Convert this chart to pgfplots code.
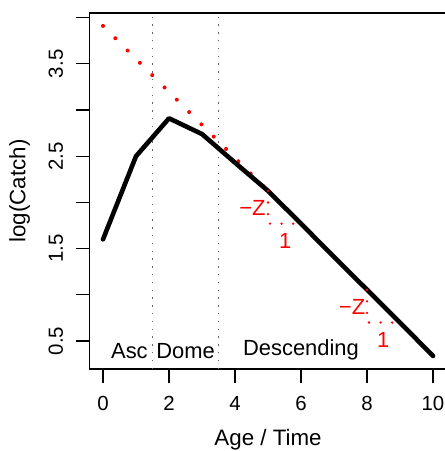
\documentclass[border=0pt]{standalone}
\usepackage{fontspec}
\setmainfont{Liberation Sans}
\usepackage{pgfplots}
\pgfplotsset{compat=1.18}
\definecolor{refgray}{HTML}{666666}
\begin{document}
\begin{tikzpicture}
\begin{axis}[
    scale only axis, width=356.4bp, height=356bp,
    xmin=-0.4, xmax=10.4, ymin=0.197, ymax=4.05,
    axis line style={black, line width=1.1bp},
    xtick={0,2,4,6,8,10}, xticklabels={0,2,4,6,8,10},
    ytick={0.5,1,1.5,2,2.5,3,3.5,4}, yticklabels={0.5,,1.5,,2.5,,3.5,},
    xtick pos=bottom, ytick pos=left,
    tick align=outside, major tick length=14bp,
    tick style={black, line width=1.1bp},
    tick label style={font=\fontsize{20.5}{22}\selectfont, inner sep=0pt},
    xticklabel style={yshift=-13bp, anchor=north},
    yticklabel style={xshift=-12.5bp, rotate=90, anchor=south},
    xlabel={Age / Time}, ylabel={log(Catch)},
    label style={font=\fontsize{22.4}{24}\selectfont, inner sep=0pt},
    xlabel style={at={(axis description cs:0.5,-0.2135)}, anchor=base},
    ylabel style={at={(axis description cs:-0.181,0.5)}, anchor=base},
]
% section boundaries
\addplot[refgray, line width=1.4bp, dash pattern=on 1.4bp off 6.4bp] coordinates {(1.5,0.197)(1.5,4.05)};
\addplot[refgray, line width=1.4bp, dash pattern=on 1.4bp off 6.4bp] coordinates {(3.5,0.197)(3.5,4.05)};
% slope line -Z
\addplot[red, line width=4bp, line cap=round, dash pattern=on 0pt off 17.4bp] coordinates {(0,3.91)(5,2.125)};
% log catch
\addplot[black, line width=4.6bp, line join=round, line cap=round] coordinates {
    (0,1.60)(1,2.50)(2,2.91)(3,2.74)(4,2.43)(5,2.125)(6,1.77)(7,1.41)(8,1.055)(9,0.70)(10,0.338)
};
% slope triangles
\addplot[red, line width=2.6bp, line cap=round, dash pattern=on 0pt off 11.6bp] coordinates {(5,2.125)(5,1.77)(6,1.77)};
\addplot[red, line width=2.6bp, line cap=round, dash pattern=on 0pt off 11.6bp] coordinates {(8,1.055)(8,0.70)(9,0.70)};
\node[red, font=\fontsize{22}{24}\selectfont, inner sep=0pt, anchor=east] at (axis cs:4.93,1.94) {−Z};
\node[red, font=\fontsize{22}{24}\selectfont, inner sep=0pt] at (axis cs:5.52,1.58) {1};
\node[red, font=\fontsize{22}{24}\selectfont, inner sep=0pt, anchor=east] at (axis cs:7.95,0.868) {−Z};
\node[red, font=\fontsize{22}{24}\selectfont, inner sep=0pt] at (axis cs:8.49,0.516) {1};
% section names
\node[font=\fontsize{22}{24}\selectfont, inner sep=0pt, anchor=base] at (axis cs:0.8,0.316) {Asc};
\node[font=\fontsize{22}{24}\selectfont, inner sep=0pt, anchor=base] at (axis cs:2.5,0.316) {Dome};
\node[font=\fontsize{22}{24}\selectfont, inner sep=0pt, anchor=base] at (axis cs:6.0,0.338) {Descending};
\coordinate (bl) at (rel axis cs:0,0);
\coordinate (tr) at (rel axis cs:1,1);
\end{axis}
\pgfresetboundingbox
\path[use as bounding box] ([shift={(-89.8bp,-82bp)}]bl) rectangle ([shift={(-1.2bp,13bp)}]tr);
\end{tikzpicture}
\end{document}
